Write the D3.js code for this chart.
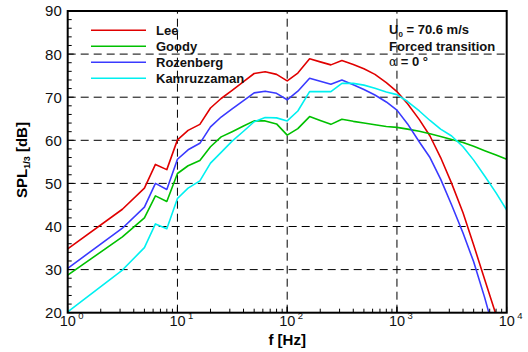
<!DOCTYPE html>
<html>
<head>
<meta charset="utf-8">
<script src="https://cdn.jsdelivr.net/npm/d3@7"></script>
<style>
html,body{margin:0;padding:0;background:#fff;}
svg{display:block;font-family:"Liberation Sans",Arial,sans-serif;}
</style>
</head>
<body>
<svg id="chart" width="528" height="352"></svg>
<script>
// ---- data ----
const freqs = [1, 3.15, 5, 6.3, 8, 10, 12.5, 16, 20, 25, 31.5, 40, 50, 63, 80, 100, 125, 160, 200, 250, 315, 400, 500, 630, 800, 1000, 1250, 1600, 2000, 2500, 3150, 4000, 5000, 6300, 8000, 10000];
const lee = [34.8, 44.0, 48.9, 54.4, 53.2, 60.1, 62.3, 63.7, 67.5, 69.7, 71.6, 73.6, 75.5, 75.9, 75.3, 73.8, 75.6, 78.9, 78.2, 77.5, 78.5, 77.6, 76.6, 75.3, 73.4, 71.3, 68.5, 64.8, 61.0, 56.0, 50.0, 43.2, 35.7, 27.7, 19.5, null];
const goody = [28.7, 37.6, 42.0, 47.1, 45.8, 52.3, 54.1, 55.3, 58.5, 60.8, 62.0, 63.3, 64.5, 64.5, 63.8, 61.2, 62.7, 65.5, 64.6, 63.7, 64.9, 64.4, 64.0, 63.6, 63.2, 63.0, 62.6, 62.1, 61.5, 60.9, 60.2, 59.5, 58.6, 57.6, 56.6, 55.6];
const rozenberg = [30.3, 39.6, 44.5, 50.0, 48.6, 55.6, 57.8, 59.3, 63.1, 65.4, 67.3, 69.2, 71.0, 71.4, 70.9, 69.4, 71.4, 74.4, 73.7, 73.0, 74.0, 72.9, 71.8, 70.5, 68.9, 67.0, 63.8, 59.6, 56.0, 51.0, 45.0, 38.5, 31.8, 23.5, 14.0, null];
const kamruzzaman = [20.2, 29.9, 35.1, 40.6, 39.5, 46.5, 48.9, 50.6, 54.7, 57.2, 59.8, 62.1, 64.3, 65.3, 65.2, 64.5, 66.8, 71.3, 71.3, 71.3, 73.2, 73.2, 72.8, 72.1, 71.2, 70.6, 69.0, 66.8, 64.6, 62.6, 61.0, 58.5, 55.4, 51.7, 47.8, 43.8];
const seriesNames = ["Lee", "Goody", "Rozenberg", "Kamruzzaman"];
const seriesColors = ["#e00000", "#00c000", "#3a3aff", "#00f0f0"];
const yTicks = [20, 30, 40, 50, 60, 70, 80, 90];
const xDecades = [0, 1, 2, 3, 4];
const annotation = ["Forced transition"];

const series = [lee, goody, rozenberg, kamruzzaman];

// ---- layout ----
const L = 67.7, R = 506.7, T = 11, B = 312.7;
const svg = d3.select("#chart");
const x = d3.scaleLog().domain([1, 1e4]).range([L, R]);
const y = d3.scaleLinear().domain([20, 90]).range([B, T]);

svg.append("defs").append("clipPath").attr("id", "clip")
  .append("rect").attr("x", L).attr("y", T).attr("width", R - L).attr("height", B - T);

// grid
const g = svg.append("g");
g.selectAll("line.hg").data(yTicks.filter(d => d > 20 && d < 90)).enter().append("line")
  .attr("x1", L).attr("x2", R).attr("y1", d => y(d)).attr("y2", d => y(d))
  .attr("stroke", "#000").attr("stroke-width", 1).attr("stroke-dasharray", "8,5");
g.selectAll("line.vg").data([10, 100, 1000]).enter().append("line")
  .attr("y1", B).attr("y2", T).attr("x1", d => x(d)).attr("x2", d => x(d))
  .attr("stroke", "#000").attr("stroke-width", 1).attr("stroke-dasharray", "8,5");

// series lines
const line = d3.line()
  .defined(d => d[1] !== null)
  .x(d => x(d[0])).y(d => y(d[1]));
const lg = svg.append("g").attr("clip-path", "url(#clip)");
series.forEach((s, i) => {
  lg.append("path")
    .datum(freqs.map((f, k) => [f, s[k]]))
    .attr("d", line)
    .attr("fill", "none")
    .attr("stroke", seriesColors[i])
    .attr("stroke-width", 1.6)
    .attr("stroke-linejoin", "round");
});

// ticks: y
const yMinor = d3.range(20, 90.1, 2);
svg.append("g").selectAll("line").data(yMinor).enter().append("line")
  .attr("x1", L).attr("x2", d => L + (d % 10 === 0 ? 6 : 4))
  .attr("y1", d => y(d)).attr("y2", d => y(d))
  .attr("stroke", "#000").attr("stroke-width", 1);
svg.append("g").selectAll("text").data(yTicks).enter().append("text")
  .attr("x", 61.8).attr("y", d => y(d)).attr("dy", "0.36em")
  .attr("text-anchor", "end").attr("font-size", 15).attr("fill", "#111")
  .text(d => d);

// ticks: x
const xMinor = [];
for (let dcd = 0; dcd < 4; dcd++) for (let m = 1; m <= 10; m++) xMinor.push(m * Math.pow(10, dcd));
svg.append("g").selectAll("line").data(xMinor).enter().append("line")
  .attr("x1", d => x(d)).attr("x2", d => x(d))
  .attr("y1", B).attr("y2", d => B - (Math.abs(Math.log10(d) - Math.round(Math.log10(d))) < 1e-9 ? 6 : 4))
  .attr("stroke", "#000").attr("stroke-width", 1);
const xl = svg.append("g").selectAll("g").data(xDecades).enter().append("g");
xl.append("text")
  .attr("x", d => x(Math.pow(10, d))).attr("y", 325.5)
  .attr("text-anchor", "middle").attr("font-size", 14.5).attr("fill", "#111")
  .text("10");
xl.append("text")
  .attr("x", d => x(Math.pow(10, d)) + 10.5).attr("y", 318.5)
  .attr("font-size", 9.5).attr("fill", "#111")
  .text(d => d);

// frame
svg.append("rect").attr("x", L).attr("y", T).attr("width", R - L).attr("height", B - T)
  .attr("fill", "none").attr("stroke", "#000").attr("stroke-width", 2);

// axis titles
svg.append("text").attr("x", (L + R) / 2).attr("y", 344.5)
  .attr("text-anchor", "middle").attr("font-size", 15).attr("font-weight", "bold")
  .text("f [Hz]");
const yt = svg.append("text").attr("transform", "translate(26.5,160) rotate(-90)")
  .attr("text-anchor", "middle").attr("font-size", 15).attr("font-weight", "bold");
yt.append("tspan").text("SPL");
yt.append("tspan").attr("font-size", 9).attr("dy", 3).text("1/3");
yt.append("tspan").attr("dy", -3).text(" [dB]");

// legend
const leg = svg.append("g").selectAll("g").data(seriesNames).enter().append("g")
  .attr("transform", (d, i) => `translate(0,${30.3 + i * 16})`);
leg.append("line").attr("x1", 91).attr("x2", 146).attr("y1", 0).attr("y2", 0)
  .attr("stroke", (d, i) => seriesColors[i]).attr("stroke-width", 1.6);
leg.append("text").attr("x", 156).attr("y", 0).attr("dy", "0.35em")
  .attr("font-size", 13).attr("font-weight", "bold").attr("fill", "#111")
  .text(d => d);

// annotation
const a1 = svg.append("text").attr("x", 389).attr("y", 34.3)
  .attr("font-size", 13).attr("font-weight", "bold").attr("fill", "#111");
a1.append("tspan").text("U");
a1.append("tspan").attr("font-size", 8).attr("dy", 3).text("0");
a1.append("tspan").attr("dy", -3).text(" = 70.6 m/s");
svg.append("text").attr("x", 389).attr("y", 50.5)
  .attr("font-size", 13).attr("font-weight", "bold").attr("fill", "#111")
  .text(annotation[0]);
const a3 = svg.append("text").attr("x", 389).attr("y", 65.7)
  .attr("font-size", 13).attr("fill", "#111");
a3.append("tspan").attr("font-family", "DejaVu Serif, serif").attr("font-size", 12).text("α");
a3.append("tspan").attr("font-weight", "bold").text(" = 0 °");
</script>
</body>
</html>
